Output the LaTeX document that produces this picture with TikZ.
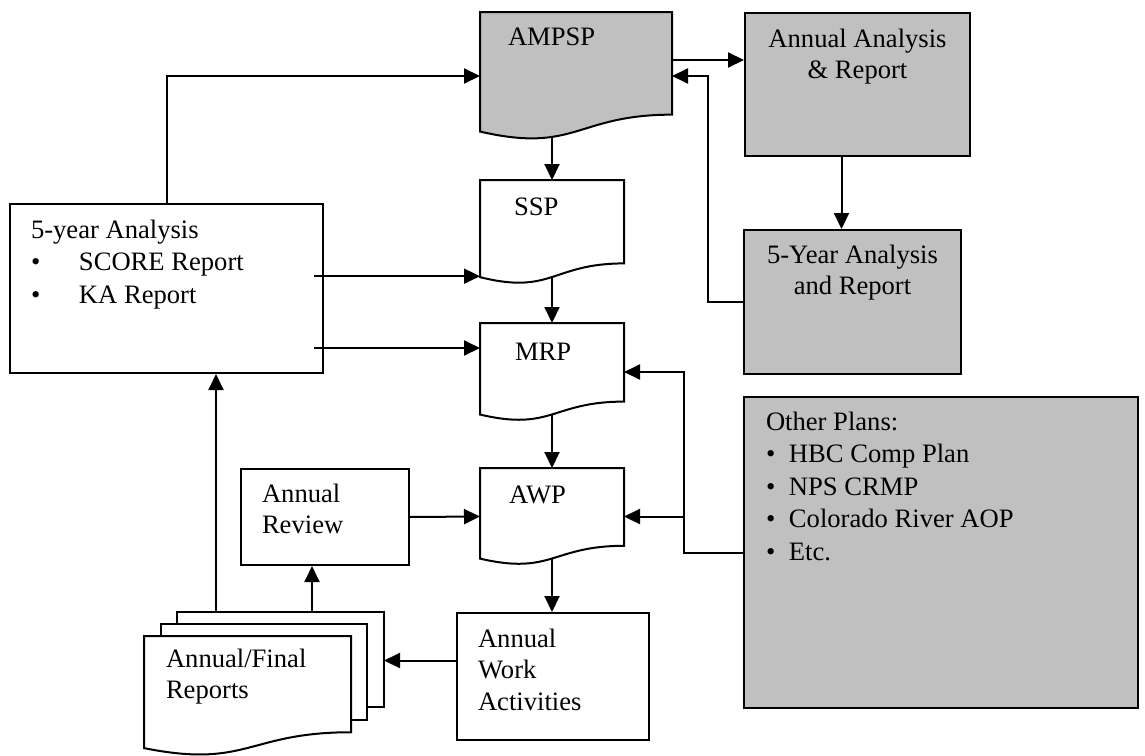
\documentclass[tikz,border=0pt]{standalone}
\usepackage{fontspec}
\setmainfont{Liberation Serif}
\usetikzlibrary{arrows.meta,calc,positioning}

\definecolor{planGray}{RGB}{192,192,192}

% wavy document outline round an empty node
\newcommand{\docoutline}[2][white]{%
  \draw[fill=#1] (#2.north west) -- (#2.north east)
    -- ($(#2.north east)!0.802!(#2.south east)$)
    .. controls ($(#2.north)!0.802!(#2.south)$) and ($(#2.north)!1.1075!(#2.south)$)
    .. ($(#2.north west)!0.934!(#2.south west)$) -- cycle;
  \coordinate (#2-b) at ($(#2.north)!0.933!(#2.south)$);}
% lines hung from the first baseline
\newcommand{\leftlines}[1]{\begin{tabular}[t]{@{}l@{}}#1\end{tabular}}
\newcommand{\midlines}[1]{\begin{tabular}[t]{@{}c@{}}#1\end{tabular}}
\newcommand{\bul}[1]{\makebox[#1][l]{\textbullet}}

\begin{document}
\begin{tikzpicture}[x=1pt,y=-1pt,line width=2pt,
    every node/.style={font=\fontsize{26.6}{31.5}\selectfont},
    block/.style={draw,rectangle,anchor=north west,inner sep=0pt},
    docblock/.style={rectangle,anchor=north west,inner sep=0pt,outer sep=0pt},
    txt/.style={anchor=base west,inner sep=0pt},
    flow/.style={-{Triangle[length=16pt,width=15pt]}}]

    \useasboundingbox (0,0) rectangle (1145,755);

    % boxes
    \node [block, minimum width=313pt, minimum height=169pt] (fiveyr) at (9,203) {};
    \node [block, minimum width=168pt, minimum height=96pt] (review) at (240,468) {};
    \node [block, minimum width=192pt, minimum height=127pt] (work) at (456,612) {};
    \node [block, fill=planGray, minimum width=225pt, minimum height=143pt] (annana) at (744,12) {};
    \node [block, fill=planGray, minimum width=217pt, minimum height=144pt] (fiveana) at (743,229) {};
    \node [block, fill=planGray, minimum width=394pt, minimum height=311pt] (other) at (743,396) {};

    % documents
    \node [docblock, minimum width=192pt, minimum height=128pt] (ampsp) at (480,12) {};
    \node [docblock, minimum width=144pt, minimum height=104pt] (ssp) at (480,180) {};
    \node [docblock, minimum width=144pt, minimum height=98pt] (mrp) at (480,323) {};
    \node [docblock, minimum width=144pt, minimum height=97pt] (awp) at (480,468) {};
    \node [docblock, minimum width=207pt, minimum height=120pt] (reports) at (144,636) {};

    \docoutline[planGray]{ampsp}
    \docoutline{ssp}
    \docoutline{mrp}
    \docoutline{awp}

    % sheets behind the reports
    \draw[fill=white] ($(reports.north west)+(33,-12)$) -- ++(0,-12) -- ++(207,0) -- ++(0,95) -- ++(-17,0);
    \draw[fill=white] ($(reports.north west)+(17,0)$) -- ++(0,-12) -- ++(206,0) -- ++(0,96) -- ++(-16,0);
    \docoutline{reports}
    \coordinate (backtop) at ($(reports.north west)+(72,-24)$);
    \coordinate (backmid) at ($(reports.north west)+(168,-24)$);
    \coordinate (backedge) at ($(reports.north west)+(240,0)$);

    % texts
    \node [txt] (ampsp-t) at ([xshift=27pt,yshift=-33pt]ampsp.north west) {AMPSP};
    \node [txt] (ssp-t) at ([xshift=33pt,yshift=-35pt]ssp.north west) {SSP};
    \node [txt] (mrp-t) at ([xshift=34pt,yshift=-37pt]mrp.north west) {MRP};
    \node [txt] (awp-t) at ([xshift=28pt,yshift=-35pt]awp.north west) {AWP};
    \node [txt] (fiveyr-t) at ([xshift=21pt,yshift=-35pt]fiveyr.north west)
        {\leftlines{5-year Analysis\\[1pt]\bul{48pt}SCORE Report\\[1pt]\bul{48pt}KA Report}};
    \node [txt] (review-t) at ([xshift=21pt,yshift=-34pt]review.north west) {\leftlines{Annual\\Review}};
    \node [txt] (reports-t) at ([xshift=21pt,yshift=-31pt]reports.north west) {\leftlines{Annual/Final\\Reports}};
    \node [txt] (work-t) at ([xshift=21pt,yshift=-35pt]work.north west) {\leftlines{Annual\\Work\\Activities}};
    \node [txt, anchor=base] (annana-t) at ([yshift=-35pt]annana.north) {\midlines{Annual Analysis\\\& Report}};
    \node [txt, anchor=base] (fiveana-t) at ([yshift=-34pt]fiveana.north) {\midlines{5-Year Analysis\\and Report}};
    \node [txt] (other-t) at ([xshift=22pt,yshift=-34pt]other.north west)
        {\leftlines{Other Plans:\\[1pt]\bul{23pt}HBC Comp Plan\\[1pt]\bul{23pt}NPS CRMP\\[1pt]\bul{23pt}Colorado River AOP\\[1pt]\bul{23pt}Etc.}};

    % connectors
    \coordinate (sspin) at ($(ssp.north west)!0.925!(ssp.south west)$);
    \coordinate (mrpin) at ([yshift=24pt]mrp.west);
    \coordinate (ampspout) at ([yshift=16pt]ampsp.east);
    \coordinate (workout) at ([yshift=16pt]work.west);

    \draw[flow] (fiveyr.north) |- (ampsp.west);
    \draw[flow] (ampspout) -- (ampspout -| annana.west);
    \draw[flow] (fiveana.west) -- ++(-35,0) |- (ampsp.east);
    \draw[flow] ([xshift=-16pt]annana.south) -- ([xshift=-16pt]annana.south |- fiveana.north);
    \draw[flow] ([yshift=3pt]ampsp.south -| ssp.north) -- (ssp.north);
    \draw[flow] (ssp-b) -- (mrp.north);
    \draw[flow] (mrp-b) -- (awp.north);
    \draw[flow] (awp-b) -- (awp-b |- work.north);
    \draw[flow] ([xshift=-10pt]fiveyr.east |- sspin) -- (sspin);
    \draw[flow] ([xshift=-10pt]fiveyr.east |- mrpin) -- (mrpin);
    \draw[flow] (other.west) -- ++(-59,0) |- (mrp.east);
    \draw[flow] (other.west) -- ++(-59,0) |- (awp.east);
    \draw[flow] (review.east) -- (awp.west);
    \draw[flow] (workout) -- (workout -| backedge);
    \draw[flow] (backtop) -- (backtop |- fiveyr.south);
    \draw[flow] (backmid) -- (backmid |- review.south);
\end{tikzpicture}
\end{document}
